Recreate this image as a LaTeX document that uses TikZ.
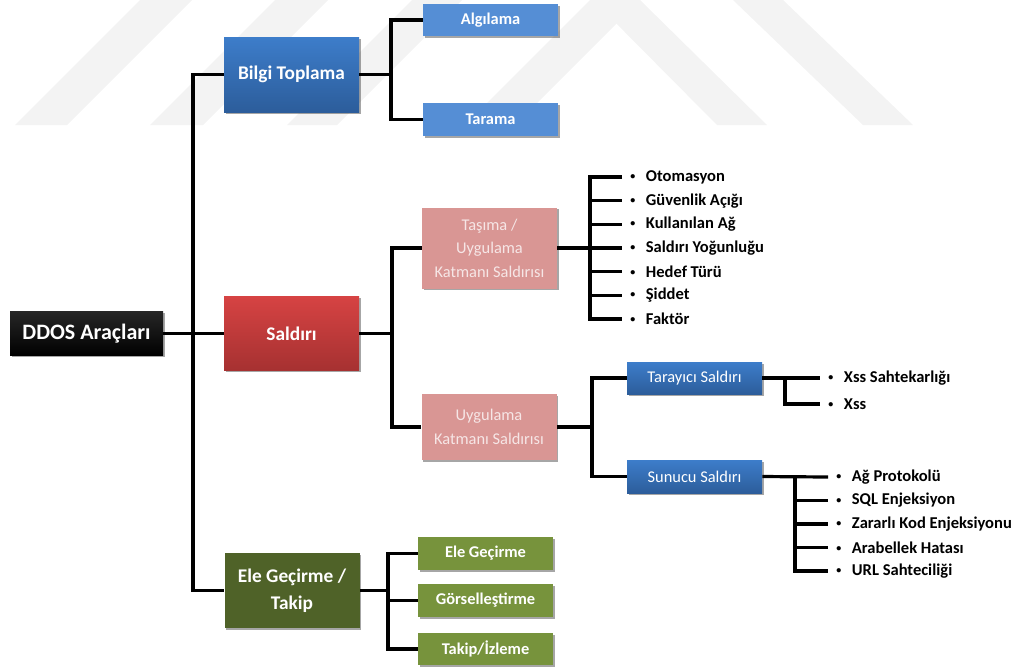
\documentclass[tikz,border=0pt]{standalone}
\usepackage{fontspec}
\setmainfont{Carlito}
\usetikzlibrary{shadows,calc}

\definecolor{bluetop}{HTML}{3D7DCA}
\definecolor{bluebot}{HTML}{2C5D9B}
\definecolor{lightblue}{HTML}{558ED5}
\definecolor{redtop}{HTML}{D64343}
\definecolor{redbot}{HTML}{A63131}
\definecolor{pinkbox}{HTML}{D99694}
\definecolor{pinktext}{HTML}{F6E6E6}
\definecolor{dkgreen}{HTML}{4F6228}
\definecolor{ltgreen}{HTML}{77933C}
\definecolor{bandgray}{HTML}{F3F3F3}

% small list bullet
\newcommand{\listdot}{\raisebox{1.4pt}{\fontsize{7.5}{8}\selectfont\textbullet}}

\begin{document}
\begin{tikzpicture}[x=0.75pt,y=-0.75pt,
  box/.style={rectangle, inner sep=2pt, align=center, text=white,
    minimum width=135*0.75pt,
    drop shadow={shadow xshift=1.3pt, shadow yshift=-1.3pt, opacity=0.35, fill=black}},
  hgt/.style={minimum height=#1*0.75pt},
  mainfont/.style={font=\fontsize{14.5}{20}\selectfont\bfseries},
  smallbold/.style={font=\fontsize{12.3}{16}\selectfont\bfseries},
  smallreg/.style={font=\fontsize{12.3}{17.6}\selectfont},
  rootbox/.style={box, top color=black!85, bottom color=black, font=\fontsize{16.5}{20}\selectfont\bfseries},
  bluegrad/.style={box, top color=bluetop, bottom color=bluebot},
  redgrad/.style={box, top color=redtop, bottom color=redbot},
  lblue/.style={box, fill=lightblue, smallbold},
  pink/.style={box, fill=pinkbox, text=pinktext, smallreg},
  dgreen/.style={box, fill=dkgreen, mainfont},
  lgreen/.style={box, fill=ltgreen, smallbold},
  item/.style={anchor=west, inner xsep=0pt, inner ysep=1pt,
    font=\fontsize{12.4}{15}\selectfont\bfseries,
    execute at begin node={\hspace*{6pt}\listdot\hspace*{8pt}}},
  link/.style={line width=2.4pt, line join=miter, black},
  band/.style={fill=bandgray}
]
\useasboundingbox (0,0) rectangle (1019,669);

% faint diagonal bands in the background
\fill[band] (15,125) -- (67,125) -- (192,0) -- (140,0) -- cycle;
\fill[band] (150,125) -- (203,125) -- (328,0) -- (275,0) -- cycle;
\fill[band] (287,125) -- (337,125) -- (462,0) -- (412,0) -- cycle;
\fill[band] (465,125) -- (515,125) -- (640,0) -- (590,0) -- cycle;
\fill[band] (593,0) -- (640,0) -- (767,125) -- (717,125) -- cycle;
\fill[band] (733,0) -- (783,0) -- (913,125) -- (863,125) -- cycle;

% junction columns
\coordinate (trunk) at (193,0);
\coordinate (jb) at (391,0);
\coordinate (js) at (392,0);
\coordinate (jt) at (590,0);
\coordinate (ju) at (592,0);
\coordinate (jr) at (785,0);
\coordinate (jn) at (795,0);
\coordinate (je) at (388,0);

% nodes
\node[rootbox, minimum width=153*0.75pt, hgt=44] (ddos) at (86.5,333.5) {DDOS Araçları};

\node[bluegrad, mainfont, hgt=75] (bilgi) at (291.5,74.5) {Bilgi Toplama};
\node[redgrad, mainfont, hgt=74] (saldiri) at (291.5,333.5) {Saldırı};
\node[dgreen, hgt=75] (ele) at (292,590.5) {Ele Geçirme /\\Takip};

\node[lblue, hgt=32] (algilama) at (490.5,20) {Algılama};
\node[lblue, hgt=33] (tarama) at (490.5,119.5) {Tarama};

\node[pink, hgt=81] (tasima) at (489.5,248) {Taşıma /\\Uygulama\\Katmanı Saldırısı};
\node[pink, hgt=66] (uygulama) at (489,427) {Uygulama\\Katmanı Saldırısı};

\node[bluegrad, smallreg, hgt=32] (tarayici) at (694.5,378) {Tarayıcı Saldırı};
\node[bluegrad, smallreg, hgt=33] (sunucu) at (694.5,476.5) {Sunucu Saldırı};

\node[lgreen, hgt=33] (elegec) at (485.5,553.5) {Ele Geçirme};
\node[lgreen, hgt=33] (gorsel) at (485.5,600.5) {Görselleştirme};
\node[lgreen, hgt=32] (izleme) at (485.5,649) {Takip/İzleme};

% bullet lists
\node[item] (t1) at (622,177) {Otomasyon};
\node[item] (t2) at (622,200.7) {Güvenlik Açığı};
\node[item] (t3) at (622,224.3) {Kullanılan Ağ};
\node[item] (t4) at (622,248) {Saldırı Yoğunluğu};
\node[item] (t5) at (622,271.7) {Hedef Türü};
\node[item] (t6) at (622,295.3) {Şiddet};
\node[item] (t7) at (622,319) {Faktör};

\node[item] (r1) at (820,378) {Xss Sahtekarlığı};
\node[item] (r2) at (820,404) {Xss};

\node[item] (n1) at (828,477) {Ağ Protokolü};
\node[item] (n2) at (828,500.5) {SQL Enjeksiyon};
\node[item] (n3) at (828,524) {Zararlı Kod Enjeksiyonu};
\node[item] (n4) at (828,547.5) {Arabellek Hatası};
\node[item] (n5) at (828,571) {URL Sahteciliği};

% connectors: root level
\draw[link] (ddos.east) -- (saldiri.west);
\draw[link] (bilgi.west) -| (trunk |- ele.west) -- (ele.west);

% Bilgi Toplama
\draw[link] (bilgi.east) -- (jb |- bilgi.east);
\draw[link] (algilama.west) -| (jb |- tarama.west) -- (tarama.west);

% Saldırı
\draw[link] (saldiri.east) -- (js |- saldiri.east);
\draw[link] (tasima.west) -| (js |- uygulama.west) -- (uygulama.west);

% Taşıma / Uygulama Katmanı Saldırısı
\draw[link] (tasima.east) -- (t4.west);
\draw[link] (t1.west) -| (jt |- t7.west) -- (t7.west);
\foreach \k in {t2,t3,t5,t6} \draw[link] (jt |- \k.west) -- (\k.west);

% Uygulama Katmanı Saldırısı
\draw[link] (uygulama.east) -- (ju |- uygulama.east);
\draw[link] (tarayici.west) -| (ju |- sunucu.west) -- (sunucu.west);

% Tarayıcı Saldırı
\draw[link] (tarayici.east) -- (r1.west);
\draw[link] (jr |- r1.west) |- (r2.west);

% Sunucu Saldırı
\draw[link] (sunucu.east) -- (n1.west);
\draw[link] (jn |- n1.west) |- (n5.west);
\foreach \k in {n2,n3,n4} \draw[link] (jn |- \k.west) -- (\k.west);

% Ele Geçirme / Takip
\draw[link] (ele.east) -- (je |- ele.east);
\draw[link] (elegec.west) -| (je |- izleme.west) -- (izleme.west);
\draw[link] (je |- gorsel.west) -- (gorsel.west);
\end{tikzpicture}
\end{document}
